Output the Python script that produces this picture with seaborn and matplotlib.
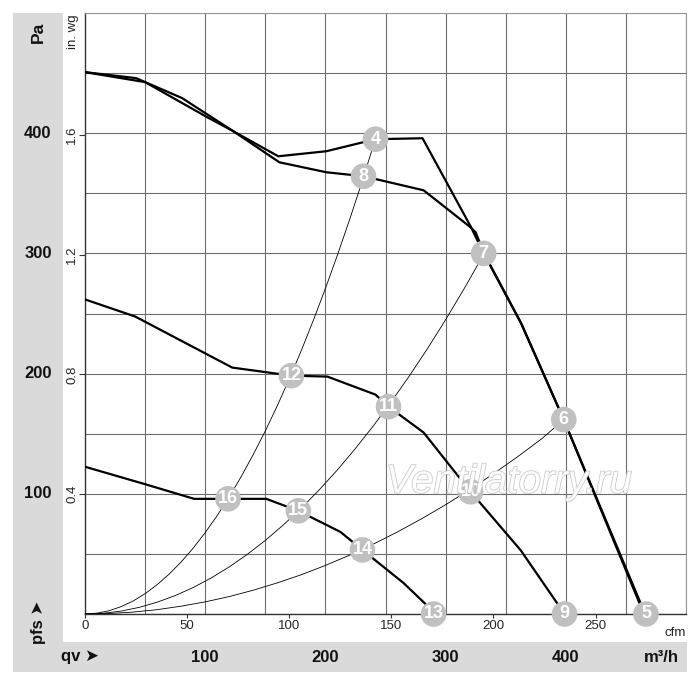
import numpy as np
import pandas as pd
import matplotlib
matplotlib.use("Agg")
import matplotlib.pyplot as plt
import seaborn as sns
from matplotlib.patches import Rectangle
from matplotlib.transforms import blended_transform_factory
import matplotlib.patheffects as pe

# ---------------- data (qv in m3/h, pressure in Pa) ----------------
curve_a_q = [0, 50, 101.7, 123.3, 160.8, 200.8, 241.7, 280.8, 320.8, 331.7, 362.5, 398.3, 466.0]
curve_a_p = [450.8, 442.5, 413.3, 401.7, 380.8, 385.0, 395.0, 395.8, 322.5, 300.0, 242.5, 161.7, 0]

curve_b_q = [0, 42.5, 80.8, 123.3, 161.7, 200.8, 231.7, 281.7, 320.8, 325.0, 332.5, 363.3, 399.0, 465.0]
curve_b_p = [450.8, 445.8, 429.2, 401.7, 375.8, 367.5, 364.2, 352.5, 321.7, 317.5, 299.0, 241.0, 160.0, 0]

curve_c_q = [0, 41.7, 122.5, 171.7, 201.7, 241.7, 252.5, 281.7, 320.8, 362.5, 399.0]
curve_c_p = [261.7, 247.5, 205.0, 198.3, 197.5, 182.5, 172.5, 151.0, 101.7, 53.0, 0]

curve_d_q = [0, 50, 90.8, 150.8, 177.5, 212.5, 230.8, 265.0, 283.3, 290.0]
curve_d_p = [122.5, 108.0, 95.8, 95.8, 85.8, 68.3, 53.3, 25.8, 8.3, 0]

# system (resistance) curves
sys1_q = [0, 10, 20, 30, 40, 50, 60, 70, 80, 90, 100, 110, 120, 130, 140, 150, 160, 170,
          180, 190, 200, 210, 220, 230, 240, 241.7]
sys1_p = [0, 0.7, 2.7, 6.1, 10.8, 16.9, 24.4, 33.2, 43.3, 54.8, 67.7, 81.9, 97.5, 114.4,
          132.7, 152.3, 173.3, 195.7, 219.3, 244.4, 270.8, 298.6, 327.7, 358.1, 390.0, 395.0]
sys2_q = [0, 15, 30, 45, 60, 75, 90, 105, 120, 135, 150, 165, 180, 195, 210, 225, 240,
          255, 270, 285, 300, 315, 330, 331.7]
sys2_p = [0, 0.6, 2.4, 5.5, 9.8, 15.3, 22.0, 30.0, 39.2, 49.6, 61.2, 74.1, 88.1, 103.4,
          119.9, 137.7, 156.7, 176.9, 198.3, 220.9, 244.8, 269.9, 296.2, 300.0]
sys3_q = [0, 20, 40, 60, 80, 100, 120, 140, 160, 180, 200, 220, 240, 260, 280, 300, 320,
          340, 360, 380, 398.3]
sys3_p = [0, 0.4, 1.6, 3.6, 6.5, 10.1, 14.5, 19.8, 25.9, 32.7, 40.4, 48.9, 58.2, 68.3,
          79.2, 90.9, 103.4, 116.8, 130.9, 145.8, 161.7]

point_labels = ["4", "5", "6", "7", "8", "9", "10", "11", "12", "13", "14", "15", "16"]
point_q = [241.7, 466.7, 398.3, 331.7, 231.7, 399.0, 320.8, 252.5, 171.7, 290.0, 230.8, 177.5, 119.0]
point_p = [395.0, 0, 161.7, 300.0, 364.2, 0, 101.7, 172.5, 198.3, 0, 53.3, 85.8, 95.8]

pa_ticks = [100, 200, 300, 400]
inwg_ticks = [0.4, 0.8, 1.2, 1.6]
cfm_ticks = [0, 50, 100, 150, 200, 250]
m3h_labels = [100, 200, 300, 400]

# ---------------- figure ----------------
sns.set_theme(style="white")
plt.rcParams["font.family"] = ["Liberation Sans", "DejaVu Sans"]

W, H = 700, 685
fig = plt.figure(figsize=(7, 6.85), dpi=100)
fig.patch.set_facecolor("white")

band = "#dadada"
def px_rect(x0, y0, x1, y1):
    return Rectangle((x0 / W, 1 - y1 / H), (x1 - x0) / W, (y1 - y0) / H,
                     transform=fig.transFigure, facecolor=band, edgecolor="none", zorder=-5)
fig.patches.append(px_rect(13, 13, 63, 642))
fig.patches.append(px_rect(13, 642, 687, 672))

ax = fig.add_axes([85 / W, 1 - 614 / H, 601 / W, 601 / H])
ax.set_xlim(0, 500)
ax.set_ylim(0, 500)

# grid via minor ticks every 50
ax.set_xticks(np.arange(0, 501, 50), minor=True)
ax.set_yticks(np.arange(0, 501, 50), minor=True)
ax.grid(True, which="minor", color="#6e6e6e", linewidth=0.8)
ax.grid(False, which="major")
ax.tick_params(which="minor", length=0)

# cfm ticks (1 cfm = 1.699 m3/h)
ax.set_xticks([c * 1.699 for c in cfm_ticks])
ax.set_xticklabels([str(c) for c in cfm_ticks], fontsize=9.5)
ax.tick_params(axis="x", which="major", length=3, width=0.8, pad=1.5, color="#333333", bottom=True)

# in. wg ticks (1 in wg = 249.09 Pa)
ax.set_yticks([v * 249.09 for v in inwg_ticks])
ax.set_yticklabels([f"{v:.1f}" for v in inwg_ticks], fontsize=9.5, rotation=90, va="center")
ax.tick_params(axis="y", which="major", length=4, width=0.8, pad=1, color="#333333", left=True)

for s in ["top", "right"]:
    ax.spines[s].set_color("#9a9a9a")
    ax.spines[s].set_linewidth(0.8)
for s in ["left", "bottom"]:
    ax.spines[s].set_color("#333333")
    ax.spines[s].set_linewidth(1.0)

# system curves
for q, p in [(sys1_q, sys1_p), (sys2_q, sys2_p), (sys3_q, sys3_p)]:
    df = pd.DataFrame({"q": q, "p": p})
    sns.lineplot(data=df, x="q", y="p", ax=ax, color="black", linewidth=0.6,
                 sort=False, estimator=None, zorder=3)

# fan curves
for q, p in [(curve_a_q, curve_a_p), (curve_b_q, curve_b_p),
             (curve_c_q, curve_c_p), (curve_d_q, curve_d_p)]:
    df = pd.DataFrame({"q": q, "p": p})
    sns.lineplot(data=df, x="q", y="p", ax=ax, color="black", linewidth=1.6,
                 sort=False, estimator=None, zorder=4)

# operating points
pts = pd.DataFrame({"q": point_q, "p": point_p, "lab": point_labels})
sns.scatterplot(data=pts, x="q", y="p", ax=ax, s=340, color="#c0c0c0",
                edgecolor="none", zorder=5, clip_on=False)
for q, p, lab in zip(point_q, point_p, point_labels):
    ax.text(q, p, lab, ha="center", va="center", color="white", fontsize=13,
            fontweight="bold", zorder=6, clip_on=False)

ax.set_xlabel("")
ax.set_ylabel("")

# watermark
ax.text((508 - 85) / 1.2, (614 - 482) / 1.2, "Ventilatorry.ru", ha="center", va="center",
        fontsize=29, style="italic", color="white", alpha=0.9, zorder=7,
        path_effects=[pe.Stroke(linewidth=1.1, foreground="#c4c4c4"), pe.Normal()])

# axis captions
ax.text(-0.02, 0.998, "in. wg", transform=ax.transAxes, rotation=90, ha="center", va="top",
        fontsize=9.5, color="#222222")
ax.text(1.0, -0.022, "cfm", transform=ax.transAxes, ha="right", va="top",
        fontsize=9.5, color="#222222")

# Pa labels in left band
ty = blended_transform_factory(fig.transFigure, ax.transData)
for v in pa_ticks:
    ax.text(38 / W, v, str(v), transform=ty, ha="center", va="center",
            fontsize=12, fontweight="bold", color="#111111", clip_on=False, zorder=8)
fig.text(38 / W, 1 - 32 / H, "Pa", rotation=90, ha="center", va="center",
         fontsize=12.5, fontweight="bold", color="#111111")
fig.text(38 / W, 1 - 622 / H, "pfs \u27a4", rotation=90, ha="center", va="center",
         fontsize=12, fontweight="bold", color="#111111")

# m3/h labels in bottom band
tx = blended_transform_factory(ax.transData, fig.transFigure)
for v in m3h_labels:
    ax.text(v, 1 - 657 / H, str(v), transform=tx, ha="center", va="center",
            fontsize=12, fontweight="bold", color="#111111", clip_on=False, zorder=8)
fig.text(80 / W, 1 - 657 / H, "qv \u27a4", ha="center", va="center",
         fontsize=12, fontweight="bold", color="#111111")
fig.text(661 / W, 1 - 657 / H, "m³/h", ha="center", va="center",
         fontsize=12, fontweight="bold", color="#111111")

fig.savefig("out.png", dpi=100, facecolor="white")
